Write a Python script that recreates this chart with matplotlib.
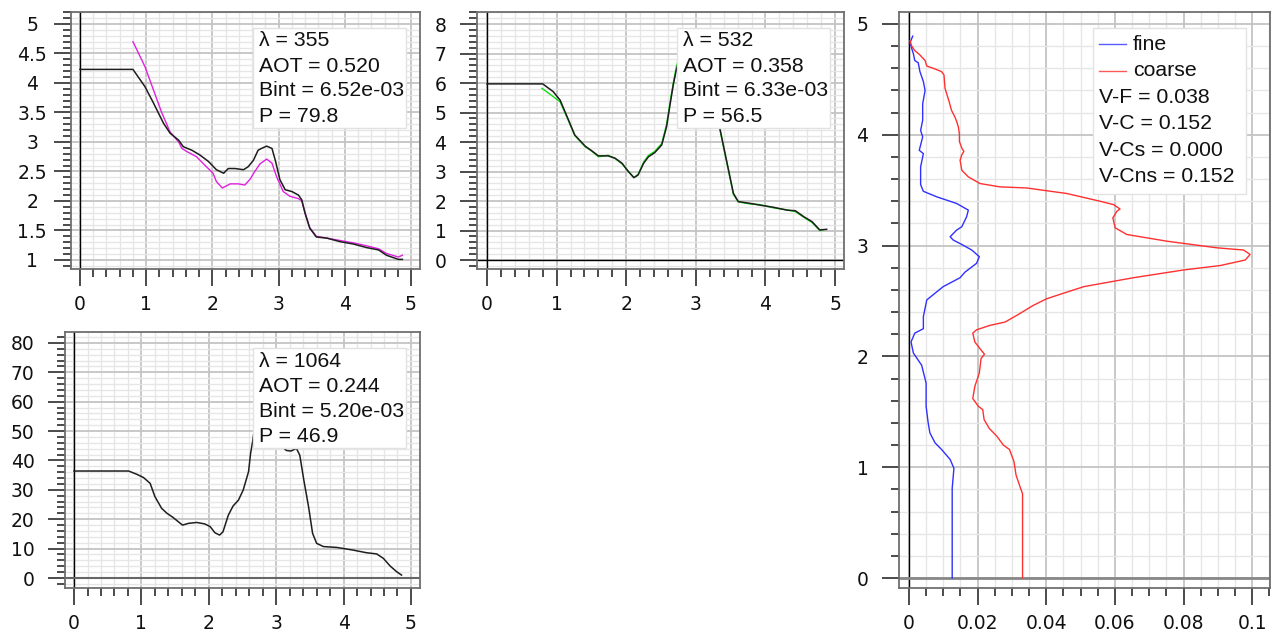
import matplotlib
matplotlib.use("Agg")
import matplotlib.pyplot as plt
from matplotlib.patches import Rectangle
from matplotlib.lines import Line2D
from matplotlib.ticker import MultipleLocator, FuncFormatter

W, H = 1273, 635

# --- lidar ratio profiles, 355 nm (black = fitted, magenta = measured) ---
p1_x = [0, 0.80, 0.98, 1.11, 1.26, 1.36, 1.49, 1.56, 1.69, 1.81, 1.94, 2.06, 2.17, 2.24, 2.34,
        2.47, 2.54, 2.62, 2.69, 2.74, 2.82, 2.90, 2.95, 3.02, 3.10, 3.20, 3.30, 3.35, 3.40, 3.47,
        3.57, 3.73, 3.93, 4.13, 4.33, 4.51, 4.63, 4.81, 4.87]
p1_y = [4.23, 4.23, 3.94, 3.66, 3.32, 3.15, 3.03, 2.92, 2.86, 2.78, 2.67, 2.53, 2.47, 2.55, 2.55,
        2.53, 2.58, 2.69, 2.86, 2.89, 2.93, 2.89, 2.69, 2.36, 2.19, 2.16, 2.10, 2.02, 1.79, 1.54,
        1.39, 1.37, 1.31, 1.27, 1.21, 1.17, 1.08, 1.01, 1.01]
p1_mx = [0.80, 0.98, 1.11, 1.23, 1.36, 1.49, 1.54, 1.61, 1.76, 1.91, 2.01, 2.06, 2.15, 2.27, 2.39,
         2.49, 2.57, 2.64, 2.72, 2.82, 2.90, 2.97, 3.07, 3.17, 3.30, 3.35, 3.40, 3.47, 3.57, 3.73,
         3.93, 4.13, 4.33, 4.51, 4.63, 4.81, 4.87]
p1_my = [4.70, 4.28, 3.88, 3.51, 3.17, 3.00, 2.89, 2.84, 2.75, 2.58, 2.47, 2.33, 2.22, 2.29, 2.29,
         2.27, 2.37, 2.50, 2.63, 2.71, 2.64, 2.41, 2.16, 2.08, 2.04, 2.00, 1.80, 1.55, 1.40, 1.37,
         1.33, 1.29, 1.24, 1.19, 1.11, 1.05, 1.08]
p1_info = ["\u03bb = 355", "AOT = 0.520", "Bint = 6.52e-03", "P = 79.8"]

# --- 532 nm ---
p2_x = [0, 0.80, 0.95, 1.05, 1.17, 1.26, 1.41, 1.50, 1.60, 1.74, 1.84, 1.94, 2.03, 2.11, 2.17,
        2.25, 2.32, 2.41, 2.51, 2.58, 2.64, 2.68, 2.72, 2.78, 2.85, 2.92, 3.00, 3.10, 3.20, 3.28,
        3.34, 3.40, 3.47, 3.54, 3.61, 3.78, 3.92, 4.11, 4.31, 4.43, 4.55, 4.67, 4.78, 4.88]
p2_y = [5.97, 5.97, 5.71, 5.42, 4.75, 4.24, 3.86, 3.71, 3.53, 3.53, 3.45, 3.28, 3.00, 2.79, 2.88,
        3.28, 3.50, 3.64, 3.90, 4.52, 5.42, 5.99, 6.44, 7.00, 7.40, 7.20, 6.40, 5.90, 5.70, 5.20,
        4.52, 3.84, 3.05, 2.26, 1.98, 1.92, 1.86, 1.79, 1.69, 1.67, 1.47, 1.30, 1.02, 1.04]
p2_gx = [0.79, 0.95, 1.05, 1.17, 1.26, 1.41, 1.50, 1.60, 1.74, 1.84, 1.94, 2.03, 2.11, 2.17, 2.25,
         2.32, 2.41, 2.51, 2.58, 2.64, 2.68, 2.72, 2.78, 2.85, 2.92, 3.00, 3.10, 3.20, 3.28, 3.34,
         3.40, 3.47, 3.54, 3.61, 3.78, 3.92, 4.11, 4.31, 4.43, 4.55, 4.67, 4.78, 4.83]
p2_gy = [5.82, 5.54, 5.36, 4.72, 4.22, 3.84, 3.70, 3.50, 3.55, 3.44, 3.26, 3.01, 2.80, 2.90, 3.32,
         3.55, 3.68, 3.95, 4.60, 5.50, 6.05, 6.55, 7.05, 7.35, 7.15, 6.35, 5.85, 5.65, 5.15, 4.50,
         3.80, 3.02, 2.22, 1.97, 1.90, 1.88, 1.77, 1.70, 1.64, 1.45, 1.27, 1.00, 1.02]
p2_info = ["\u03bb = 532", "AOT = 0.358", "Bint = 6.33e-03", "P = 56.5"]

# --- 1064 nm ---
p3_x = [0, 0.81, 0.93, 1.03, 1.13, 1.20, 1.30, 1.38, 1.47, 1.55, 1.61, 1.70, 1.82, 1.94, 2.02,
        2.09, 2.16, 2.21, 2.29, 2.36, 2.44, 2.51, 2.59, 2.62, 2.65, 2.72, 2.80, 2.88, 2.96, 3.04,
        3.10, 3.15, 3.22, 3.30, 3.35, 3.41, 3.48, 3.54, 3.60, 3.70, 3.90, 4.14, 4.34, 4.49, 4.59,
        4.69, 4.79, 4.86]
p3_y = [36.4, 36.4, 35.3, 34.2, 32.2, 27.7, 23.7, 22.0, 20.6, 19.1, 18.0, 18.6, 18.9, 18.4, 17.5,
        15.4, 14.6, 15.7, 21.4, 24.5, 26.5, 29.9, 36.2, 42.4, 46.4, 58.0, 68.0, 72.0, 66.0, 52.0,
        44.5, 43.4, 43.2, 44.1, 41.8, 33.3, 24.3, 15.2, 11.8, 10.7, 10.4, 9.5, 8.6, 8.2, 6.7,
        4.1, 2.1, 1.0]
p3_info = ["\u03bb = 1064", "AOT = 0.244", "Bint = 5.20e-03", "P = 46.9"]

# --- volume concentration profiles (x = concentration, y = altitude) ---
fine_y = [0, 0.81, 0.99, 1.07, 1.16, 1.22, 1.31, 1.40, 1.55, 1.76, 1.92, 2.03, 2.13, 2.21, 2.25,
          2.36, 2.51, 2.63, 2.71, 2.76, 2.84, 2.90, 2.96, 3.01, 3.05, 3.08, 3.14, 3.17, 3.26, 3.32,
          3.38, 3.44, 3.49, 3.55, 3.71, 3.83, 3.86, 3.98, 4.04, 4.13, 4.28, 4.40, 4.48, 4.57, 4.65,
          4.67, 4.73, 4.78, 4.83, 4.89]
fine_x = [0.0126, 0.0126, 0.0131, 0.0120, 0.0095, 0.0076, 0.0061, 0.0056, 0.0050, 0.0050, 0.0037,
          0.0013, 0.0006, 0.0017, 0.0042, 0.0042, 0.0052, 0.0100, 0.0149, 0.0163, 0.0197, 0.0205,
          0.0183, 0.0154, 0.0129, 0.0120, 0.0139, 0.0154, 0.0168, 0.0173, 0.0139, 0.0081, 0.0042,
          0.0034, 0.0034, 0.0042, 0.0030, 0.0040, 0.0034, 0.0040, 0.0040, 0.0047, 0.0042, 0.0032,
          0.0027, 0.0017, 0.0013, 0.0008, 0.0003, 0.0011]
coarse_y = [0, 0.76, 0.82, 0.93, 1.05, 1.16, 1.20, 1.28, 1.35, 1.43, 1.52, 1.55, 1.62, 1.73, 1.85,
            1.98, 2.02, 2.07, 2.13, 2.21, 2.24, 2.28, 2.31, 2.37, 2.46, 2.52, 2.58, 2.63, 2.71, 2.78,
            2.82, 2.87, 2.92, 2.96, 2.98, 3.04, 3.10, 3.16, 3.25, 3.31, 3.33, 3.37, 3.40, 3.47, 3.52,
            3.53, 3.56, 3.62, 3.68, 3.77, 3.82, 3.85, 3.88, 3.94, 4.01, 4.07, 4.12, 4.16, 4.22, 4.30,
            4.37, 4.42, 4.54, 4.57, 4.60, 4.62, 4.67, 4.72, 4.76, 4.80, 4.85]
coarse_x = [0.0331, 0.0331, 0.0324, 0.0312, 0.0306, 0.0293, 0.0275, 0.0256, 0.0234, 0.0219, 0.0215,
            0.0202, 0.0186, 0.0192, 0.0205, 0.0210, 0.0220, 0.0207, 0.0192, 0.0186, 0.0197, 0.0236,
            0.0280, 0.0314, 0.0362, 0.0401, 0.0460, 0.0510, 0.0654, 0.0800, 0.0907, 0.0980, 0.0994,
            0.0975, 0.0897, 0.0751, 0.0635, 0.0601, 0.0594, 0.0606, 0.0615, 0.0596, 0.0557, 0.0460,
            0.0343, 0.0265, 0.0207, 0.0173, 0.0154, 0.0149, 0.0154, 0.0160, 0.0154, 0.0147, 0.0147,
            0.0144, 0.0139, 0.0134, 0.0124, 0.0117, 0.0110, 0.0105, 0.0102, 0.0095, 0.0071, 0.0052,
            0.0047, 0.0032, 0.0017, 0.0008, 0.0003]
vol_info = ["V-F = 0.038", "V-C = 0.152", "V-Cs = 0.000", "V-Cns = 0.152"]

BOX_FONT = "Liberation Sans"
FRAME = "#6e6e6e"
TICK = "#1a1a1a"


def px_axes(left, top, right, bottom):
    # figure pixel box -> axes rect in figure fraction
    return [left / W, 1 - bottom / H, (right - left) / W, (bottom - top) / H]


def style_axes(ax, xlim, ylim, xmaj, xmin, ymaj, ymin, center_ylabels=False):
    ax.set_xlim(xlim)
    ax.set_ylim(ylim)
    ax.xaxis.set_major_locator(MultipleLocator(xmaj))
    ax.xaxis.set_minor_locator(MultipleLocator(xmin))
    ax.yaxis.set_major_locator(MultipleLocator(ymaj))
    ax.yaxis.set_minor_locator(MultipleLocator(ymin))
    fmt = FuncFormatter(lambda v, p: "%g" % round(v, 6))
    ax.xaxis.set_major_formatter(fmt)
    ax.yaxis.set_major_formatter(fmt)
    ax.grid(which="major", color="#c4c4c4", lw=1.3)
    ax.grid(which="minor", color="#e6e6e6", lw=1.0)
    ax.set_axisbelow(True)
    ax.tick_params(axis="both", which="major", length=12, width=1.1, color=TICK,
                   labelsize=13.5, labelcolor="#111111")
    ax.tick_params(axis="both", which="minor", length=6, width=1.1, color=TICK)
    ax.tick_params(axis="x", which="major", pad=7)
    ax.tick_params(axis="y", which="major", pad=16 if center_ylabels else 10)
    for s in ax.spines.values():
        s.set_color(FRAME)
        s.set_linewidth(1.3)
    if center_ylabels:
        for lab in ax.get_yticklabels():
            lab.set_horizontalalignment("center")


def info_box(ax, lines, right=14, top=16, bw=153, bh=100, first=13, step=25, handles=()):
    bb = ax.get_position()
    aw, ah = bb.width * W, bb.height * H
    x0 = 1 - (right + bw) / aw
    y1 = 1 - top / ah
    ax.add_patch(Rectangle((x0, y1 - bh / ah), bw / aw, bh / ah, transform=ax.transAxes,
                           facecolor="white", edgecolor="#e2e2e2", lw=1.0, zorder=5, clip_on=False))
    row = 0
    for label, color in handles:
        yc = y1 - (first + step * row) / ah
        ax.add_line(Line2D([x0 + 6 / aw, x0 + 33 / aw], [yc, yc], transform=ax.transAxes,
                           color=color, lw=1.0, zorder=6))
        ax.text(x0 + 40 / aw, yc, label, transform=ax.transAxes, va="center", ha="left",
                fontsize=15.3, family=BOX_FONT, color="#111111", zorder=6)
        row += 1
    for line in lines:
        yc = y1 - (first + step * row) / ah
        ax.text(x0 + 6 / aw, yc, line, transform=ax.transAxes, va="center", ha="left",
                fontsize=15.3, family=BOX_FONT, color="#111111", zorder=6)
        row += 1


fig = plt.figure(figsize=(W / 100, H / 100), dpi=100)

# 355 nm
ax1 = fig.add_axes(px_axes(71, 12, 420, 269))
style_axes(ax1, (-0.136, 5.136), (0.847, 5.203), 1, 0.2, 0.5, 0.1, center_ylabels=True)
ax1.axvline(0, color="black", lw=1.0, zorder=1.5)
ax1.plot(p1_mx, p1_my, color="#e020e0", lw=1.0, zorder=2)
ax1.plot(p1_x, p1_y, color="#1e1e1e", lw=1.1, zorder=3)
info_box(ax1, p1_info)

# 532 nm
ax2 = fig.add_axes(px_axes(477, 12, 844, 269))
style_axes(ax2, (-0.144, 5.129), (-0.305, 8.407), 1, 0.2, 1, 0.2)
ax2.axvline(0, color="black", lw=1.0, zorder=1.5)
ax2.axhline(0, color="black", lw=1.0, zorder=1.5)
ax2.plot(p2_gx, p2_gy, color="#10e010", lw=1.0, zorder=2)
ax2.plot(p2_x, p2_y, color="#1e1e1e", lw=1.1, zorder=3)
info_box(ax2, p2_info)

# 1064 nm
ax3 = fig.add_axes(px_axes(65, 332, 420, 588))
style_axes(ax3, (-0.134, 5.134), (-3.4, 83.7), 1, 0.2, 10, 2)
ax3.axvline(0, color="black", lw=1.0, zorder=1.5)
ax3.axhline(0, color="#666666", lw=1.5, zorder=1.5)
ax3.plot(p3_x, p3_y, color="#1e1e1e", lw=1.1, zorder=3)
info_box(ax3, p3_info)

# volume concentration
ax4 = fig.add_axes(px_axes(899, 12, 1270, 588))
style_axes(ax4, (-0.0029, 0.1052), (-0.09, 5.108), 0.02, 0.005, 1, 0.2)
ax4.axvline(0, color="black", lw=1.0, zorder=1.5)
ax4.axhline(0, color="#888888", lw=2.0, zorder=1.5)
ax4.plot(fine_x, fine_y, color="#3030ff", lw=1.0, zorder=3)
ax4.plot(coarse_x, coarse_y, color="#ff3030", lw=1.0, zorder=3)
info_box(ax4, vol_info, right=24, top=16, bw=153, bh=166, first=16, step=26.6,
         handles=[("fine", "#5a5aff"), ("coarse", "#ff5a5a")])

fig.savefig("out.png", dpi=100)
